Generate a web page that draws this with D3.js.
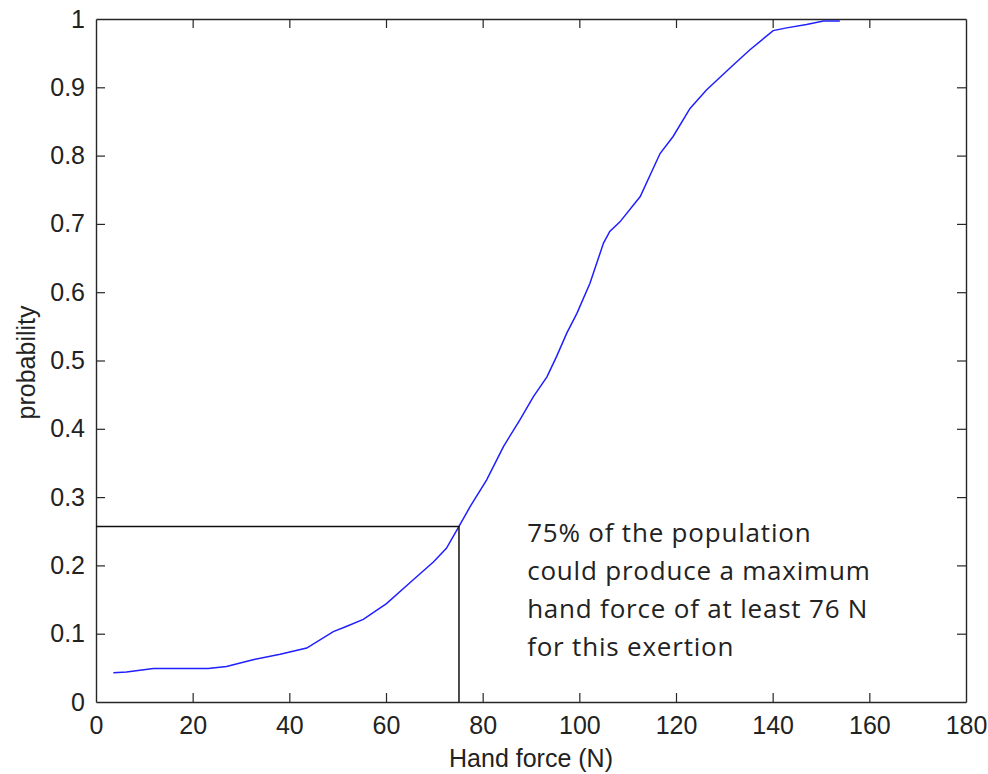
<!DOCTYPE html>
<html>
<head>
<meta charset="utf-8">
<script src="https://cdn.jsdelivr.net/npm/d3@7"></script>
<style>
  html, body { margin: 0; padding: 0; background: #fff; }
  svg { display: block; }
</style>
</head>
<body>
<svg id="chart" width="988" height="774"></svg>
<script>
// ---- data ----
const force = [3.6, 6.3, 11.9, 23.2, 27.0, 32.5, 38.1, 43.6, 49.1, 51.9, 55.3, 60.1, 65.0, 69.8, 72.5, 75.1,
  77.4, 80.8, 84.3, 87.7, 90.5, 93.3, 95.3, 97.4, 99.5, 102.2, 105.0, 106.3, 108.4, 112.6, 116.7, 119.4,
  122.9, 126.3, 131.9, 135.3, 140.1, 142.9, 147.0, 150.5, 153.9];
const probability = [0.043, 0.044, 0.049, 0.049, 0.052, 0.062, 0.070, 0.079, 0.103, 0.111, 0.121, 0.144, 0.175, 0.205, 0.225, 0.257,
  0.286, 0.325, 0.374, 0.413, 0.447, 0.476, 0.506, 0.540, 0.569, 0.613, 0.672, 0.689, 0.703, 0.740, 0.803, 0.828,
  0.869, 0.896, 0.933, 0.955, 0.983, 0.987, 0.992, 0.997, 0.997];
const xTicks = [0, 20, 40, 60, 80, 100, 120, 140, 160, 180];
const yTicks = [0, 0.1, 0.2, 0.3, 0.4, 0.5, 0.6, 0.7, 0.8, 0.9, 1];
const markerForce = [75.1];
const markerProb = [0.257];
const annotation = ["75% of the population", "could produce a maximum", "hand force of at least 76 N", "for this exertion"];
const xLabel = "Hand force (N)";
const yLabel = "probability";

// ---- layout ----
const L = 96, R = 966, T = 19, B = 702;
const svg = d3.select("#chart");
const x = d3.scaleLinear().domain([0, 180]).range([L, R]);
const y = d3.scaleLinear().domain([0, 1]).range([B, T]);
const axisColor = "#262626";
const tickFont = "'Liberation Sans', Arial, Helvetica, sans-serif";

// axes
const gx = svg.append("g").attr("transform", `translate(0,${B})`)
  .call(d3.axisBottom(x).tickValues(xTicks).tickSizeInner(-9).tickSizeOuter(0).tickPadding(14).tickFormat(d3.format("d")));
const gxTop = svg.append("g").attr("transform", `translate(0,${T})`)
  .call(d3.axisTop(x).tickValues(xTicks).tickSizeInner(-9).tickSizeOuter(0).tickFormat(""));
const gy = svg.append("g").attr("transform", `translate(${L},0)`)
  .call(d3.axisLeft(y).tickValues(yTicks).tickSizeInner(-9).tickSizeOuter(0).tickPadding(11).tickFormat(d => d3.format("")(+d.toFixed(1))));
const gyR = svg.append("g").attr("transform", `translate(${R},0)`)
  .call(d3.axisRight(y).tickValues(yTicks).tickSizeInner(-9).tickSizeOuter(0).tickFormat(""));

[gx, gxTop, gy, gyR].forEach(g => {
  g.select(".domain").attr("stroke", axisColor).attr("stroke-width", 1.4);
  g.selectAll(".tick line").attr("stroke", axisColor).attr("stroke-width", 1.2);
  g.selectAll(".tick text").attr("fill", "#222").style("font-family", tickFont).style("font-size", "25px");
});
// remove ticks on the edges that coincide with the box
gxTop.selectAll(".tick").filter(d => d === 0 || d === 180).select("line").remove();
gx.selectAll(".tick").filter(d => d === 0 || d === 180).select("line").remove();
gy.selectAll(".tick").filter(d => d === 0 || d === 1).select("line").remove();
gyR.selectAll(".tick").filter(d => d === 0 || d === 1).select("line").remove();

// curve
const pts = force.map((f, i) => [f, probability[i]]);
svg.append("path")
  .datum(pts)
  .attr("fill", "none")
  .attr("stroke", "#1f1fff")
  .attr("stroke-width", 1.5)
  .attr("d", d3.line().x(d => x(d[0])).y(d => y(d[1])));

// marker lines
svg.append("path")
  .attr("fill", "none")
  .attr("stroke", "#111")
  .attr("stroke-width", 1.5)
  .attr("d", d3.line()([[x(0), y(markerProb[0])], [x(markerForce[0]), y(markerProb[0])], [x(markerForce[0]), y(0)]]));

// annotation
const ann = svg.append("text")
  .attr("x", x(89.2))
  .attr("y", 542)
  .attr("fill", "#222")
  .style("font-family", "'Open Sans', 'Noto Sans', sans-serif")
  .style("font-size", "26px")
  .style("letter-spacing", "0.8px");
annotation.forEach((line, i) => {
  ann.append("tspan").attr("x", x(89.2)).attr("dy", i === 0 ? 0 : 38).text(line);
});

// axis labels
svg.append("text")
  .attr("x", (L + R) / 2 + 0)
  .attr("y", 767)
  .attr("text-anchor", "middle")
  .attr("fill", "#222")
  .style("font-family", tickFont)
  .style("font-size", "25px")
  .text(xLabel);

svg.append("text")
  .attr("transform", `translate(35,${(T + B) / 2 + 2}) rotate(-90)`)
  .attr("text-anchor", "middle")
  .attr("fill", "#222")
  .style("font-family", tickFont)
  .style("font-size", "25px")
  .text(yLabel);
</script>
</body>
</html>
